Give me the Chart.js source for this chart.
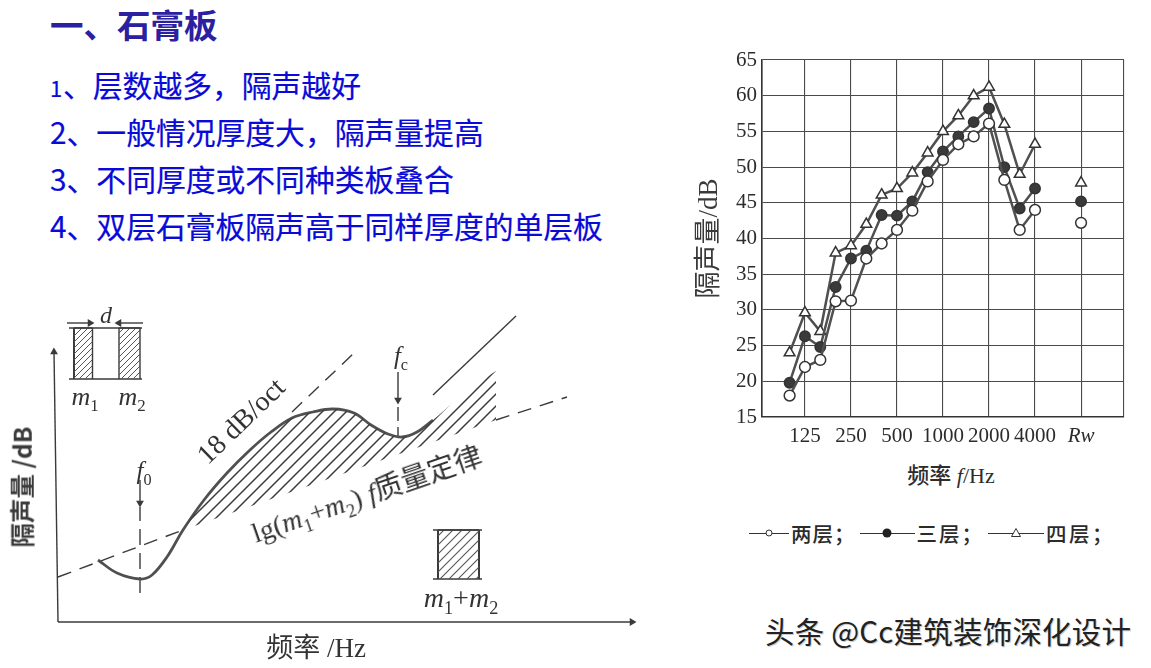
<!DOCTYPE html>
<html lang="zh"><head><meta charset="utf-8">
<script src="https://cdn.jsdelivr.net/npm/chart.js@4"></script>
<style>
html,body{margin:0;padding:0;background:#fff;width:1151px;height:668px;overflow:hidden}
body{position:relative;font-family:"Noto Sans CJK SC",sans-serif}
canvas{position:absolute}
.t{position:absolute;white-space:nowrap;line-height:1}
.c{transform:translate(-50%,-50%)}
.bullet{color:#0a0ad8;font-size:29.8px;left:50px;-webkit-text-stroke:.2px #0a0ad8}
.dia{color:#333;font-family:"Liberation Serif","Noto Sans CJK SC",serif;font-size:24px}
.dia i{font-style:italic}
.dia sub{font-size:.65em;line-height:0}
.ser{color:#2c2c2c;font-family:"Liberation Serif","Noto Sans CJK SC",serif}
#legend{position:absolute;left:749px;top:521px;height:24px;display:flex;align-items:center;color:#2b2b2b;font-size:20.5px;font-weight:500}
#legend .k{display:inline-block;position:relative;height:14px}
#legend .k:before{content:"";position:absolute;left:0;right:0;top:6.5px;height:1.4px;background:#333}
#legend svg{position:absolute;left:50%;top:0;transform:translateX(-50%)}
</style></head><body>
<div class="t" style="left:50px;top:7px;font-size:33.5px;font-weight:700;color:#2a20a0">一、石膏板</div>
<div class="t bullet" style="top:70px"><span style="font-size:22px;display:inline-block;width:13px">1</span>、层数越多，隔声越好</div>
<div class="t bullet" style="top:117px">2、一般情况厚度大，隔声量提高</div>
<div class="t bullet" style="top:164px">3、不同厚度或不同种类板叠合</div>
<div class="t bullet" style="top:211px">4、双层石膏板隔声高于同样厚度的单层板</div>

<canvas id="dia" width="650" height="378" style="left:0;top:290px;width:650px;height:378px"></canvas>
<div class="t c dia" style="left:22px;top:487px;transform:translate(-50%,-50%) rotate(-90deg);font-family:'Noto Sans CJK SC';font-weight:700;font-size:24.5px;color:#3a3a3a">隔声量 /dB</div>
<div class="t c dia" style="left:316px;top:648px;font-size:27px;font-weight:400;color:#333">频率 /Hz</div>
<div class="t c dia" style="left:106px;top:315px"><i>d</i></div>
<div class="t c dia" style="left:85px;top:397px;font-size:26px"><i>m</i><sub>1</sub></div>
<div class="t c dia" style="left:132px;top:397px;font-size:26px"><i>m</i><sub>2</sub></div>
<div class="t c dia" style="left:241px;top:421px;transform:translate(-50%,-50%) rotate(-44deg);font-size:28px">18 dB/oct</div>
<div class="t c dia" style="left:144px;top:470px;font-size:25px"><i>f</i><sub>0</sub></div>
<div class="t c dia" style="left:401px;top:355px;font-size:25px"><i>f</i><sub>c</sub></div>
<div class="t c dia" style="left:367px;top:495px;transform:translate(-50%,-50%) rotate(-19deg);font-size:28px">lg(<i>m</i><sub>1</sub>+<i>m</i><sub>2</sub>) <i>f</i>质量定律</div>
<div class="t c dia" style="left:461px;top:598px;font-size:28px"><i>m</i><sub>1</sub>+<i>m</i><sub>2</sub></div>

<canvas id="main" width="450" height="407" style="left:690px;top:40px;width:450px;height:407px"></canvas>
<div class="t c ser" style="left:951px;top:476px;font-size:22px;font-weight:500">频率 <i>f</i>/Hz</div>
<div id="legend"></div>
<div class="t" style="left:765px;top:616px;font-size:29.5px;font-weight:400;letter-spacing:.2px;color:#222;text-shadow:1px 1px 0 #ccc">头条 @Cc建筑装饰深化设计</div>

<script>
// ---- measured sound-insulation chart ----
const categories = ['100','125','160','200','250','315','400','500','630','800','1000','1250','1600','2000','2500','3150','4000','','','Rw'];
const tickLabels = {1:'125',4:'250',7:'500',10:'1000',13:'2000',16:'4000',19:'Rw'};
const twoLayers   = [18,22,23,31.2,31.3,37.2,39.3,41.2,43.9,48,51,53.2,54.3,56.1,48.2,41.2,44,null,null,42.2];
const threeLayers = [19.8,26.3,24.8,33.2,37.2,38.3,43.3,43.2,45.2,49.3,52.2,54.3,56.3,58.2,50,44.2,47,null,null,45.2];
const fourLayers  = [24,29.6,27,38,39,42,46.1,47,49.2,52,55,57.2,60,61.2,56,49,53.2,null,null,47.8];
const seriesNames = ['两层','三层','四层'];
const yMin = 15, yMax = 65, yStep = 5;
const xMin = -1.8, xMax = 21.8;

// ---- schematic diagram: arbitrary frequency / level units ----
const dipCurve   = [[41,62],[60,49],[83,43],[95,47],[110,65],[126,92],[147,122],[170,149],[193,172],[214,190],[235,204],[256,210],[276,213],[297,209],[314,197],[331,188],[345,185],[360,190],[376,202]];
const hatchTop   = [[126,92],[147,122],[170,149],[193,172],[214,190],[235,204],[256,210],[276,213],[297,209],[314,197],[331,188],[345,185],[360,190],[376,202],[397,220],[418,237],[439,251]];
const hatchBottom= [[126,92],[439,202]];
const massLawLow = [[1,45],[126,92]];
const massLawHigh= [[439,202],[510,225]];
const slope18    = [[235,210],[297,269]];
const coincLine  = [[376,227],[459,306]];
const f0Dash     = [[83,29],[83,115]];
const f0Arrow    = [[83,142],[83,119]];
const fcDash     = [[341,215],[341,185]];
const fcArrow    = [[341,250],[341,222]];
const axisY      = [[1,0],[-3,270]];
const axisX      = [[1,0],[575,0]];
const wall1      = [[17,294],[35.5,294]];
const wall2      = [[62,294],[83,294]];
const wallBase   = 243;
const capTop     = [[12,294],[85,294]];
const capBottom  = [[12,243],[85,243]];
const dimLeft    = [[10,299],[33,299]];
const dimRight   = [[86,299],[62,299]];
const wall3      = [[381,92],[422,92]];
const wall3Base  = 43;
const cap3Top    = [[376,92],[425,92]];
const cap3Bottom = [[376,43],[425,43]];

Chart.defaults.font.family = '"Liberation Serif","Noto Sans CJK SC",serif';
const ink = '#3a3a3a', line = '#505050', grid = '#4a4a4a';

function hatch(size, width, color){
  const c = document.createElement('canvas'); c.width = c.height = size;
  const g = c.getContext('2d'); g.strokeStyle = color; g.lineWidth = width; g.lineCap='square';
  g.beginPath();
  g.moveTo(-1,size+1); g.lineTo(size+1,-1);
  g.moveTo(-1,1); g.lineTo(1,-1);
  g.moveTo(size-1,size+1); g.lineTo(size+1,size-1);
  g.stroke();
  return g.createPattern(c,'repeat');
}
const ctxDia = document.getElementById('dia').getContext('2d');
const pt = a => a.map(([x,y])=>({x,y}));
const seg = (a,o={}) => Object.assign({data:pt(a),borderColor:ink,borderWidth:1.4,pointRadius:0,fill:false,tension:0},o);
const arrow = (a,rot,o={}) => seg(a,Object.assign({
  pointRadius:c=>c.dataIndex===a.length-1?4.5:0, pointStyle:'triangle', rotation:rot,
  pointBackgroundColor:ink, pointBorderColor:ink, pointBorderWidth:0},o));
const dash = [14,9];

new Chart(ctxDia,{type:'line',data:{datasets:[
  seg(hatchBottom,{borderWidth:0,borderColor:'transparent'}),
  seg(hatchTop,{borderWidth:0,borderColor:'transparent',tension:.3,fill:{target:0},backgroundColor:hatch(12,1.5,'#3c3c3c')}),
  seg(dipCurve,{borderWidth:2.8,borderColor:'#505050',tension:.35}),
  seg(massLawLow,{borderDash:dash}),
  seg(massLawHigh,{borderDash:dash}),
  seg(slope18,{borderDash:dash}),
  seg(coincLine),
  seg(f0Dash,{borderDash:[16,8]}), arrow(f0Arrow,180),
  seg(fcDash,{borderDash:[14,6]}), arrow(fcArrow,180),
  arrow(axisY,-1), arrow(axisX,90),
  seg(wall1,{fill:{value:wallBase},backgroundColor:hatch(6,1,'#555')}),
  seg(wall2,{fill:{value:wallBase},backgroundColor:hatch(6,1,'#555')}),
  seg([[17,294],[17,243]],{borderWidth:2}), seg([[35.5,294],[35.5,243]]),
  seg([[62,294],[62,243]]), seg([[83,294],[83,243]]),
  seg(capTop), seg(capBottom),
  arrow(dimLeft,90), arrow(dimRight,-90),
  seg(wall3,{fill:{value:wall3Base},backgroundColor:hatch(9,1.1,'#555')}),
  seg([[381,92],[381,43]],{borderWidth:2}), seg([[422,92],[422,43]],{borderWidth:2}),
  seg(cap3Top), seg(cap3Bottom)
]},options:{responsive:false,animation:false,layout:{padding:5},
  plugins:{legend:{display:false},tooltip:{enabled:false}},
  scales:{x:{type:'linear',display:false,min:-52,max:588},y:{type:'linear',display:false,min:-41,max:327}}}});

const series = [
  {values:twoLayers,  style:'circle',  radius:5.4,fill:'#fff'},
  {values:threeLayers,style:'circle',  radius:5.2,fill:'#3a3a3a'},
  {values:fourLayers, style:'triangle',radius:6.2,fill:'#fff'}
];
new Chart(document.getElementById('main').getContext('2d'),{type:'line',
  data:{datasets:series.map((s,k)=>({
    label:seriesNames[k],
    data:s.values.map((v,i)=>({x:i,y:v})),
    borderColor:line,borderWidth:2.5,spanGaps:false,tension:0,
    pointStyle:s.style,pointRadius:s.radius,pointBackgroundColor:s.fill,
    pointBorderColor:'#333',pointBorderWidth:1.5
  }))},
  options:{responsive:false,animation:false,
    layout:{padding:{top:20,right:16,left:0,bottom:0}},
    plugins:{legend:{display:false},tooltip:{enabled:false}},
    scales:{
      x:{type:'linear',min:xMin,max:xMax,
        afterBuildTicks:a=>{a.ticks=[xMin,...Object.keys(tickLabels).map(Number),xMax].map(value=>({value}));},
        afterFit:a=>{a.height=30;},
        grid:{color:grid,lineWidth:1.1,drawTicks:false},
        border:{color:'#333',width:1.6},
        ticks:{autoSkip:false,maxRotation:0,minRotation:0,padding:7,color:'#2c2c2c',
          font:c=>({size:21,style:c.tick&&c.tick.value===19?'italic':'normal'}),
          callback:v=>tickLabels[v]||''}},
      y:{type:'linear',min:yMin,max:yMax,
        afterFit:a=>{a.width=72;},
        grid:{color:grid,lineWidth:1.1,drawTicks:false},
        border:{color:'#333',width:1.6},
        title:{display:true,text:'隔声量/dB',color:'#3a3a3a',font:{size:27},padding:{top:4,bottom:0}},
        ticks:{stepSize:yStep,padding:5,color:'#2c2c2c',font:{size:21}}}
    }}});

// legend built from the series names
const lg=document.getElementById('legend');
const marks=['<circle cx="7" cy="7" r="3" fill="#fff" stroke="#333" stroke-width="1"/>',
  '<circle cx="7" cy="7" r="4.5" fill="#222"/>',
  '<polygon points="7,2.5 11.5,10.5 2.5,10.5" fill="#fff" stroke="#333" stroke-width="1"/>'];
const keyW=[40,55,56], spacing=[1,2,2.5];
seriesNames.forEach((n,i)=>{
  lg.insertAdjacentHTML('beforeend',
   `<span class="k" style="width:${keyW[i]}px"><svg width="14" height="14">${marks[i]}</svg></span>`+
   `<span style="margin-left:2px;letter-spacing:${spacing[i]}px">${n}；</span><span style="width:${i<2?4:0}px"></span>`);
});
</script>
</body></html>
